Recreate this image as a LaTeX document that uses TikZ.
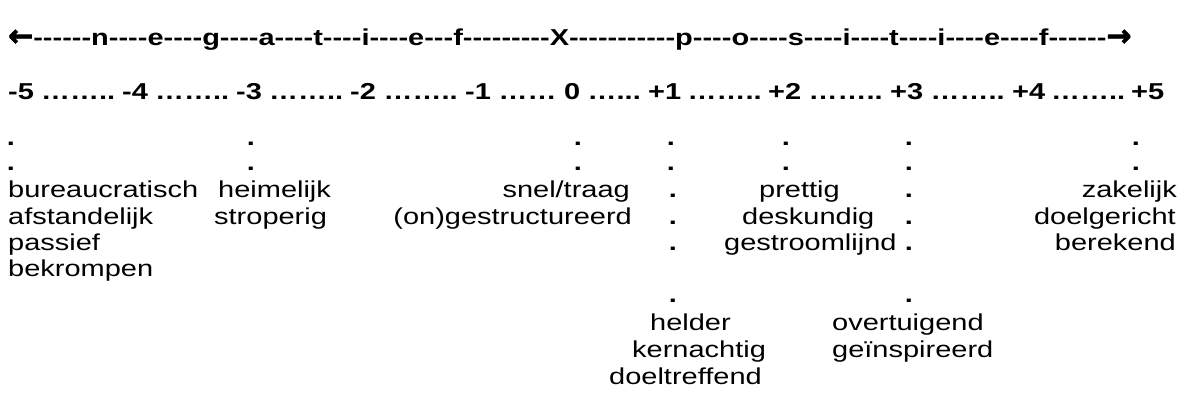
\documentclass[tikz,border=0pt]{standalone}
\usepackage{fontspec}
\setmainfont{Liberation Sans}[FakeStretch=1.26,Ligatures=TeXOff]
\newfontfamily\arrowfont{DejaVu Sans}[Ligatures=TeXOff,BoldFeatures={FakeBold=2.5}]
\begin{document}
\begin{tikzpicture}[x=1pt,y=-1pt,
  wd/.style={anchor=base west,inner sep=0pt,font=\fontsize{23}{27}\selectfont},
  wde/.style={anchor=base east,inner sep=0pt,font=\fontsize{23}{27}\selectfont},
  hd/.style={anchor=base west,inner sep=0pt,font=\fontsize{23}{27}\selectfont\bfseries},
  hdc/.style={anchor=base,inner sep=0pt,font=\fontsize{23}{27}\selectfont\bfseries},
  pt/.style={anchor=base,inner sep=0pt,font=\fontsize{23}{27}\selectfont\bfseries}]
\useasboundingbox[fill=white] (0,0) rectangle (1188,398);
% title line
\node[hd] (title) at (8,46) {{\arrowfont\bfseries\fontsize{30}{30}\selectfont ←}------n----e----g----a----t----i----e---f---------X-----------p----o----s----i----t----i----e----f------{\arrowfont\bfseries\fontsize{30}{30}\selectfont →}};
% scale numbers
\node[hd] (m5) at (8,100) {-5};
\node[hd] (m4) at (122,100) {-4};
\node[hd] (m3) at (236,100) {-3};
\node[hd] (m2) at (350,100) {-2};
\node[hd] (m1) at (465,100) {-1};
\node[hd] (z0) at (564,100) {0};
\node[hd] (p1) at (648,100) {+1};
\node[hd] (p2) at (768,100) {+2};
\node[hd] (p3) at (890,100) {+3};
\node[hd] (p4) at (1012,100) {+4};
\node[hd] (p5) at (1131,100) {+5};
% dots between numbers
\path (m5.base east) -- (m4.base west) node[hdc,midway] (g1) {……..};
\path (m4.base east) -- (m3.base west) node[hdc,midway] (g2) {……..};
\path (m3.base east) -- (m2.base west) node[hdc,midway] (g3) {……..};
\path (m2.base east) -- (m1.base west) node[hdc,midway] (g4) {……..};
\path (m1.base east) -- (z0.base west) node[hdc,midway] (g5) {……};
\path (z0.base east) -- (p1.base west) node[hdc,midway] (g6) {…...};
\path (p1.base east) -- (p2.base west) node[hdc,midway] (g7) {……..};
\path (p2.base east) -- (p3.base west) node[hdc,midway] (g8) {……..};
\path (p3.base east) -- (p4.base west) node[hdc,midway] (g9) {……..};
\path (p4.base east) -- (p5.base west) node[hdc,midway] (g10) {……..};
% dot columns
\foreach \x [count=\i] in {11,251,578,671,786,909,1136}{
  \node[pt] (da\i) at (\x,146) {.};
  \node[pt] (db\i) at (\x,171) {.};
}
% row A
\node[wd] (bur) at (8,198) {bureaucratisch};
\node[wd] (hei) at (218,198) {heimelijk};
\node[wde] (sne) at (630,198) {snel/traag};
\node[pt] (pa1) at (673,198) {.};
\node[wd] (pre) at (759,198) {prettig};
\node[pt] (pa2) at (909,198) {.};
\node[wde] (zak) at (1177,198) {zakelijk};
% row B
\node[wd] (afs) at (8,224) {afstandelijk};
\node[wd] (str) at (214,224) {stroperig};
\node[wde] (ong) at (632,224) {(on)gestructureerd};
\node[pt] (pb1) at (673,224) {.};
\node[wd] (des) at (742,224) {deskundig};
\node[pt] (pb2) at (909,224) {.};
\node[wde] (doe) at (1176,224) {doelgericht};
% row C
\node[wd] (pas) at (8,250) {passief};
\node[pt] (pc1) at (673,250) {.};
\node[wd] (ges) at (724,250) {gestroomlijnd};
\node[pt] (pc2) at (909,250) {.};
\node[wde] (ber) at (1176,250) {berekend};
% row D
\node[wd] (bek) at (8,276) {bekrompen};
% row E
\node[pt] (pe1) at (673,302) {.};
\node[pt] (pe2) at (909,302) {.};
% rows F-H
\node[wd] (hel) at (650,330) {helder};
\node[wd] (ove) at (832,330) {overtuigend};
\node[wd] (ker) at (632,357) {kernachtig};
\node[wd] (gei) at (832,357) {geïnspireerd};
\node[wd] (dtr) at (609,384) {doeltreffend};
\end{tikzpicture}
\end{document}
